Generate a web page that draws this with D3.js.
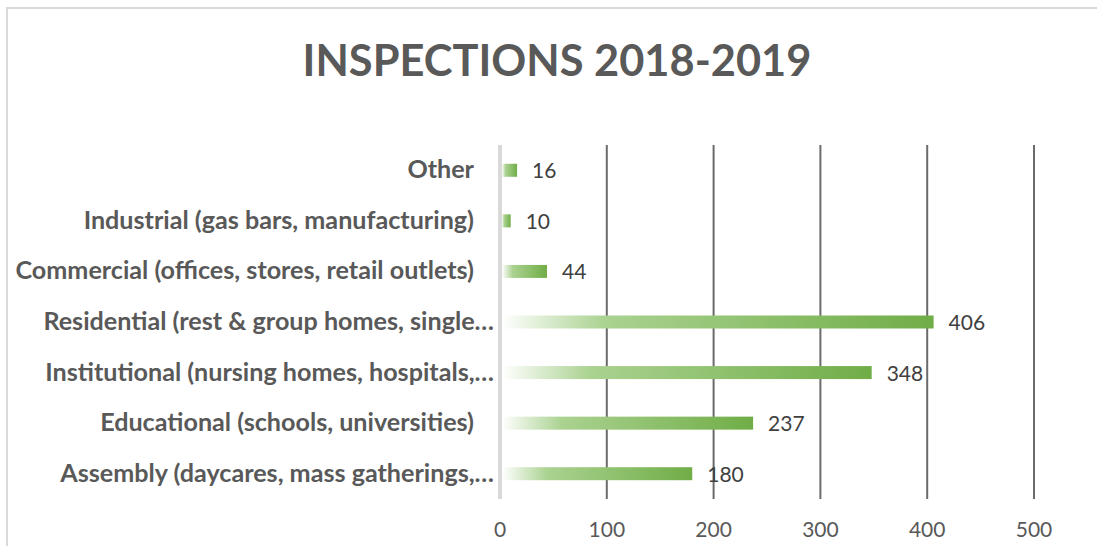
<!DOCTYPE html>
<html>
<head>
<meta charset="utf-8">
<script src="https://cdn.jsdelivr.net/npm/d3@7"></script>
<style>
  body { margin: 0; background: #fff; }
  svg { display: block; }
</style>
</head>
<body>
<script>
// Data, top to bottom as drawn
const categories = [
  "Other",
  "Industrial (gas bars, manufacturing)",
  "Commercial (offices, stores, retail outlets)",
  "Residential (rest & group homes, single\u2026",
  "Institutional (nursing homes, hospitals,\u2026",
  "Educational (schools, universities)",
  "Assembly (daycares, mass gatherings,\u2026"
];
const values = [16, 10, 44, 406, 348, 237, 180];
const tickValues = [0, 100, 200, 300, 400, 500];
const title = "INSPECTIONS 2018-2019";

let width = 1097, height = 546;

let svg = d3.select('body')
    .append('svg')
    .attr('width', width)
    .attr('height', height);

// chart border
svg.append('rect')
    .attr('x', 7).attr('y', 8)
    .attr('width', width + 10).attr('height', height + 10)
    .attr('fill', 'none')
    .attr('stroke', '#d9d9d9')
    .attr('stroke-width', 2);

// gradient for bars (white on the left to green on the right)
let grad = svg.append('defs').append('linearGradient')
    .attr('id', 'barGrad')
    .attr('x1', '0%').attr('x2', '100%')
    .attr('y1', '0%').attr('y2', '0%');
grad.append('stop').attr('offset', '0%').attr('stop-color', '#ffffff');
grad.append('stop').attr('offset', '24%').attr('stop-color', '#aad290');
grad.append('stop').attr('offset', '100%').attr('stop-color', '#70ad47');

// scales
let xScale = d3.scaleLinear()
    .domain([0, 500])
    .range([500, 1034]);

let yScale = d3.scaleBand()
    .domain(categories)
    .range([145, 499])
    .paddingInner(0)
    .paddingOuter(0);

// title
svg.append('text')
    .attr('x', 557)
    .attr('y', 76)
    .attr('text-anchor', 'middle')
    .style('font-family', 'Lato, "Open Sans", sans-serif')
    .style('font-weight', 'bold')
    .style('font-size', '44px')
    .style('fill', '#595959')
    .text(title)
    .each(function() { fitWidth(this, 509); });

// vertical gridlines
svg.append('g')
    .selectAll('line')
    .data(tickValues.slice(1))
    .enter()
    .append('line')
    .attr('x1', d => xScale(d)).attr('x2', d => xScale(d))
    .attr('y1', 145).attr('y2', 499)
    .attr('stroke', '#6b6b6b')
    .attr('stroke-width', 2);

// zero axis line
svg.append('line')
    .attr('x1', xScale(0)).attr('x2', xScale(0))
    .attr('y1', 145).attr('y2', 499)
    .attr('stroke', '#d9d9d9')
    .attr('stroke-width', 4);

// bars
svg.append('g')
    .selectAll('rect')
    .data(values)
    .enter()
    .append('rect')
    .attr('x', xScale(0) + 2)
    .attr('y', (d, i) => yScale(categories[i]) + yScale.bandwidth() / 2 - 6.5)
    .attr('width', d => xScale(d) - xScale(0) - 2)
    .attr('height', 13)
    .attr('fill', 'url(#barGrad)');

// value labels
svg.append('g')
    .selectAll('text')
    .data(values)
    .enter()
    .append('text')
    .attr('x', d => xScale(d) + 15)
    .attr('y', (d, i) => yScale(categories[i]) + yScale.bandwidth() / 2 + 8)
    .style('font-family', 'Lato, "Open Sans", sans-serif')
    .style('font-size', '21px')
    .style('fill', '#404040')
    .text(d => d);

// category labels (truncated ones sit further right, as in the original)
let catLabels = svg.append('g')
    .selectAll('text')
    .data(categories)
    .enter()
    .append('text')
    .attr('x', d => d.endsWith('\u2026') ? 494 : 474)
    .attr('y', d => yScale(d) + yScale.bandwidth() / 2 + 8)
    .attr('text-anchor', 'end')
    .style('font-family', 'Lato, "Open Sans", sans-serif')
    .style('font-weight', 'bold')
    .style('font-size', '21px')
    .style('fill', '#595959')
    .text(d => d);

// match label size to the reference width of the Assembly label
let ref = catLabels.filter((d, i) => i === categories.length - 1).node();
let scaleF = 434 / ref.getComputedTextLength();
catLabels.style('font-size', (21 * scaleF) + 'px');

// x axis tick labels
svg.append('g')
    .selectAll('text')
    .data(tickValues)
    .enter()
    .append('text')
    .attr('x', d => xScale(d))
    .attr('y', 537)
    .attr('text-anchor', 'middle')
    .style('font-family', 'Lato, "Open Sans", sans-serif')
    .style('font-size', '21px')
    .style('fill', '#595959')
    .text(d => d);

function fitWidth(node, target) {
  let fs = parseFloat(node.style.fontSize);
  let w = node.getComputedTextLength();
  node.style.fontSize = (fs * target / w) + 'px';
}
</script>
</body>
</html>
